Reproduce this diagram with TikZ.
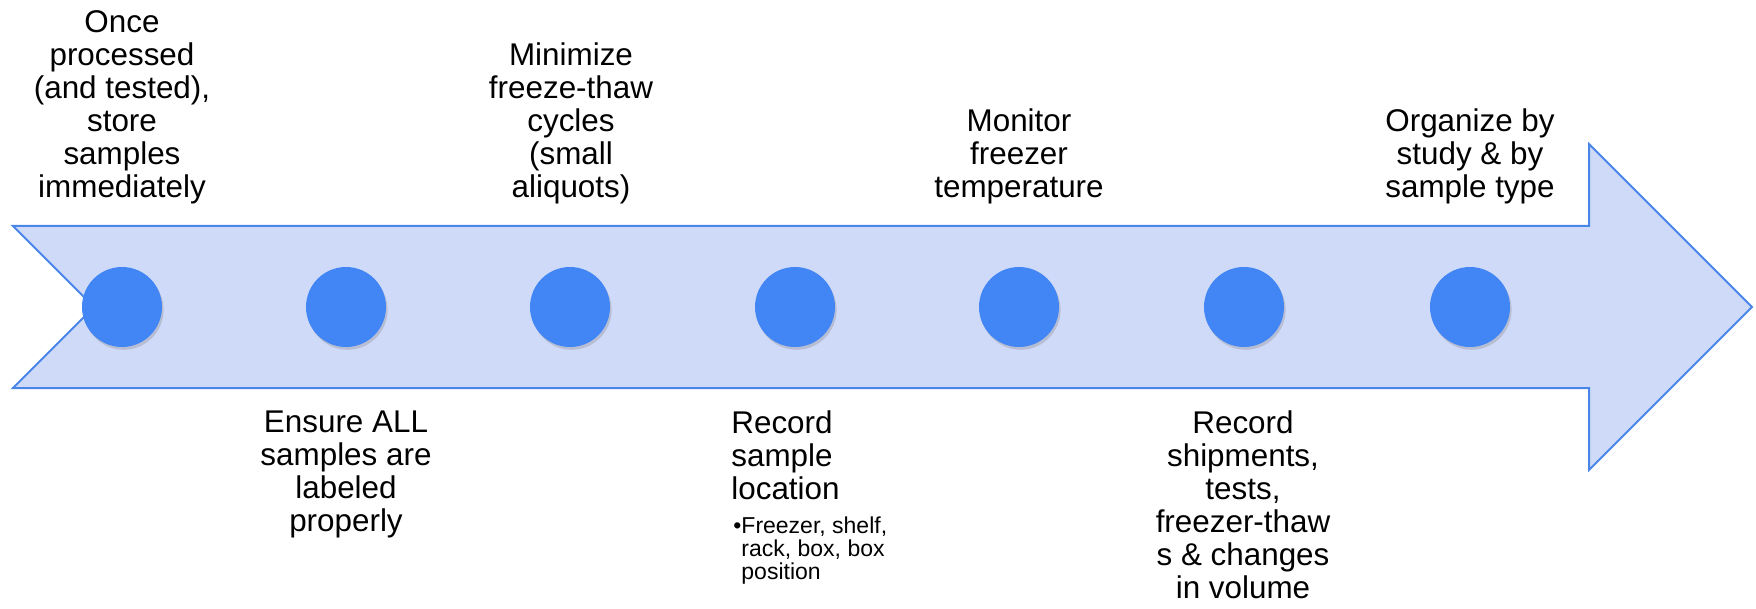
\documentclass[tikz,border=0pt]{standalone}
\usepackage{fontspec}
\setmainfont{Liberation Sans}
\usetikzlibrary{positioning,shadows}
\definecolor{arrowfill}{RGB}{207,218,248}
\definecolor{arrowline}{RGB}{74,134,232}
\definecolor{dotblue}{RGB}{66,133,244}
\tikzset{
  milestone/.style={circle,fill=dotblue,minimum size=40pt,inner sep=0pt,
    drop shadow={opacity=0.3,shadow xshift=0.8pt,shadow yshift=-1.4pt}},
  lbl/.style={font=\fontsize{15.7}{16.5}\selectfont,inner sep=0pt,align=center},
  sublbl/.style={font=\fontsize{11.5}{11.5}\selectfont,inner sep=0pt,align=left}
}
\begin{document}
\begin{tikzpicture}[x=0.5pt,y=-0.5pt]
\useasboundingbox (0,0) rectangle (1756,609);
% big arrow
\fill[arrowfill,draw=arrowline,line width=1pt] (13,226) -- (1589,226) -- (1589,144) -- (1752,307)
  -- (1589,470) -- (1589,388) -- (13,388) -- (94,307) -- cycle;

\node[milestone] (c1) at (122,307){};
\node[milestone] (c2) at (346,307){};
\node[milestone] (c3) at (570,307){};
\node[milestone] (c4) at (795,307){};
\node[milestone] (c5) at (1019,307){};
\node[milestone] (c6) at (1244,307){};
\node[milestone] (c7) at (1470,307){};

% labels above
\node[lbl,anchor=south] (t1) at (122,204) {Once\\processed\\(and tested),\\store\\samples\\immediately};
\node[lbl,anchor=south] (t3) at (571,204) {Minimize\\freeze-thaw\\cycles\\(small\\aliquots)};
\node[lbl,anchor=south] (t5) at (1019,204) {Monitor\\freezer\\temperature};
\node[lbl,anchor=south] (t7) at (1470,204) {Organize by\\study \& by\\sample type};

% labels below
\node[lbl,anchor=north] (t2) at (346,410) {Ensure ALL\\samples are\\labeled\\properly};
\node[lbl,anchor=north west,align=left] (t4) at (731,410) {Record\\sample\\location};
\node[sublbl,below right=8.5pt and 1pt of t4.south west] (t4b) {\textbullet Freezer, shelf,\\\hphantom{\textbullet}rack, box, box\\\hphantom{\textbullet}position};
\node[lbl,anchor=north] (t6) at (1243,410) {Record\\shipments,\\tests,\\freezer-thaw\\s \& changes\\in volume};
\end{tikzpicture}
\end{document}
